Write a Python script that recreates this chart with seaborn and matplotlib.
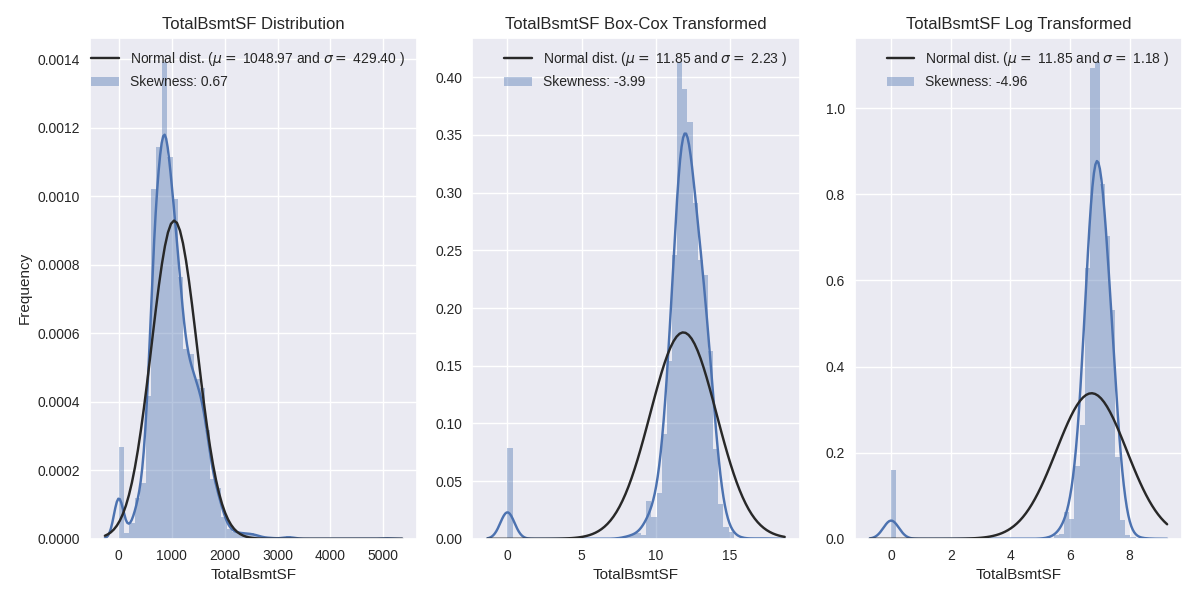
import numpy as np
import pandas as pd
import matplotlib
matplotlib.use("Agg")
import matplotlib.pyplot as plt
from matplotlib.lines import Line2D
from matplotlib.patches import Patch
import seaborn as sns

# Histogram heights (density), 50 bins per panel
raw_heights = [
    0.000268, 0.0000175, 0.0000447, 0.00012, 0.000163, 0.000417, 0.00102, 0.001143, 0.001393, 0.001114,
    0.000992, 0.000764, 0.000553, 0.00054, 0.000467, 0.000441, 0.000317, 0.000174, 0.000147, 0.000064,
    0.00003, 0.00002, 0.000018, 0.000016, 0.000016, 0.000012, 0.000005, 0.000003, 0.000003, 0.0,
    0.000003, 0.000007, 0.000003, 0.0, 0.0, 0.0, 0.0, 0.0, 0.0, 0.0,
    0.0, 0.0, 0.0, 0.0, 0.0, 0.0, 0.0, 0.0, 0.0, 0.0000034,
]
boxcox_heights = [
    0.079, 0.0, 0.0, 0.0, 0.0, 0.0, 0.0, 0.0, 0.0, 0.0,
    0.0, 0.0, 0.0, 0.0, 0.0, 0.0, 0.0, 0.0, 0.0, 0.0,
    0.0, 0.0, 0.001, 0.002, 0.004, 0.005, 0.003, 0.0325, 0.019, 0.0395,
    0.091, 0.154, 0.246, 0.4135, 0.39, 0.361, 0.291, 0.2416, 0.2286, 0.163,
    0.078, 0.030, 0.0105, 0.0056, 0.001, 0.0005, 0.0003, 0.0, 0.0, 0.001,
]
log_heights = [
    0.160, 0.0, 0.0, 0.0, 0.0, 0.0, 0.0, 0.0, 0.0, 0.0,
    0.0, 0.0, 0.0, 0.0, 0.0, 0.0, 0.0, 0.0, 0.0, 0.0,
    0.0, 0.0, 0.0, 0.0, 0.0, 0.0, 0.0, 0.0, 0.0, 0.0,
    0.001, 0.002, 0.008, 0.012, 0.062, 0.047, 0.17, 0.265, 0.63, 1.093,
    1.108, 0.823, 0.703, 0.531, 0.19, 0.0435, 0.0078, 0.0047, 0.001, 0.002,
]

# value range of each variable (min, max)
raw_range = (0.0, 5095.0)
boxcox_range = (0.0, 17.32)
log_range = (0.0, 8.536)

titles = ["TotalBsmtSF Distribution", "TotalBsmtSF Box-Cox Transformed", "TotalBsmtSF Log Transformed"]

# normal fit parameters (curve) and what the legend prints
fit_mu = [1048.97, 11.85, 6.72]
fit_sigma = [429.40, 2.23, 1.18]
legend_mu = [1048.97, 11.85, 11.85]
legend_sigma = [429.40, 2.23, 1.18]
skewness = [0.67, -3.99, -4.96]

N_HOUSES = 2919
SCOTT = N_HOUSES ** (-1 / 5)

BLUE = "#4C72B0"
DARK = "#282828"


def draw_panel(ax, heights, vrange, mu, sigma, leg_mu, leg_sigma, skew, title):
    n_bins = len(heights)
    edges = np.linspace(vrange[0], vrange[1], n_bins + 1)
    centers = (edges[:-1] + edges[1:]) / 2
    centers[0] = vrange[0]  # first bin = houses without basement (value 0)
    df = pd.DataFrame({"value": centers, "dens": heights})

    # support like distplot: data range +- 3 bandwidths
    bw = SCOTT * sigma
    support = (vrange[0] - 3 * bw, vrange[1] + 3 * bw)

    sns.histplot(data=df, x="value", weights="dens", bins=n_bins, binrange=vrange,
                 stat="count", ax=ax, color=BLUE, alpha=0.4, linewidth=0)
    sns.kdeplot(data=df, x="value", weights="dens", bw_method=SCOTT, clip=support,
                ax=ax, color=BLUE, linewidth=1.75)

    # fitted normal
    xs = np.linspace(support[0], support[1], 100)
    ys = np.exp(-0.5 * ((xs - mu) / sigma) ** 2) / (sigma * np.sqrt(2 * np.pi))
    sns.lineplot(x=xs, y=ys, ax=ax, color=DARK, linewidth=1.75)

    handles = [Line2D([0], [0], color=DARK, linewidth=1.75),
               Patch(facecolor=BLUE, alpha=0.4, linewidth=0)]
    labels = ["Normal dist. ($\\mu=$ {:.2f} and $\\sigma=$ {:.2f} )".format(leg_mu, leg_sigma),
              "Skewness: {:.2f}".format(skew)]
    ax.legend(handles, labels, loc="upper right", frameon=False, fontsize=10)
    ax.set_title(title, fontsize=12)
    ax.set_xlabel("TotalBsmtSF", fontsize=11)
    ax.set_ylabel("")


sns.set_theme(style="darkgrid", rc={
    "axes.facecolor": "#EAEAF2",
    "grid.color": "white",
    "xtick.major.size": 0,
    "ytick.major.size": 0,
    "xtick.major.pad": 7,
    "ytick.major.pad": 7,
    "xtick.labelsize": 10,
    "ytick.labelsize": 10,
    "text.color": ".15",
    "axes.labelcolor": ".15",
    "xtick.color": ".15",
    "ytick.color": ".15",
})
plt.rcParams["font.family"] = ["Liberation Sans", "DejaVu Sans"]

fig, axes = plt.subplots(1, 3, figsize=(12, 6), dpi=100)
fig.subplots_adjust(left=0.075, right=0.985, top=0.937, bottom=0.102, wspace=0.169)

panel_heights = [raw_heights, boxcox_heights, log_heights]
panel_ranges = [raw_range, boxcox_range, log_range]
for i, ax in enumerate(axes):
    draw_panel(ax, panel_heights[i], panel_ranges[i], fit_mu[i], fit_sigma[i],
               legend_mu[i], legend_sigma[i], skewness[i], titles[i])

axes[0].set_ylabel("Frequency", fontsize=11)

fig.savefig("out.png", dpi=100)
